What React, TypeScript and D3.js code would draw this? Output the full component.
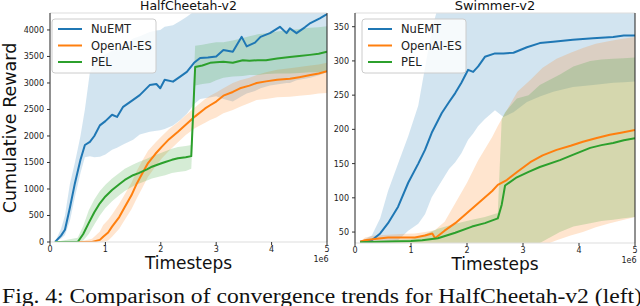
import React from "react";
import * as d3 from "d3";

// ---------- HalfCheetah-v2 (t in 1e6 timesteps) ----------
const hcNuT = [0.09,0.2,0.27,0.36,0.45,0.55,0.63,0.72,0.8,0.9,1.0,1.12,1.21,1.32,1.5,1.62,1.8,1.92,1.99,2.07,2.22,2.35,2.47,2.6,2.71,2.85,3.0,3.13,3.3,3.46,3.55,3.7,3.8,3.97,4.15,4.27,4.33,4.45,4.6,4.7,4.87,5.0];
const hcNuMean = [0,120,230,650,1110,1550,1830,1890,2000,2200,2280,2400,2360,2550,2680,2770,2960,2980,2900,3060,3025,3120,3210,3380,3470,3480,3500,3620,3590,3870,3690,3760,3870,3940,4060,3940,4030,3940,4050,4130,4220,4300];
const hcNuLow = [0,60,130,400,850,1300,1600,1620,1600,1610,1650,1740,1780,1840,1930,2030,2080,2100,2110,2130,2200,2300,2420,2600,2700,2720,2750,2700,2650,2750,2800,2850,2900,2950,2980,3000,3000,3050,3080,3100,3150,3200];
const hcNuHigh = [0,250,500,1100,1500,2000,2500,3200,3380,3480,3540,3610,3640,3700,3840,3880,3960,3990,4000,4060,4090,4170,4250,4350,4450,4500,4500,4500,4500,4500,4500,4500,4500,4500,4500,4500,4500,4500,4500,4500,4500,4500];

const hcEsT = [0.09,0.5,0.76,0.9,0.96,1.05,1.12,1.25,1.35,1.47,1.57,1.67,1.77,1.9,2.02,2.15,2.31,2.45,2.62,2.8,2.89,3.0,3.13,3.3,3.43,3.6,3.73,3.9,4.1,4.33,4.5,4.7,4.85,5.0];
const hcEsMean = [0,0,0,40,100,180,290,470,660,880,1110,1300,1490,1660,1800,1940,2080,2210,2370,2520,2580,2650,2760,2830,2900,2950,3000,3030,3060,3080,3110,3150,3180,3220];
const hcEsLow = [0,0,0,0,0,30,100,250,420,620,830,1030,1230,1420,1580,1720,1880,2020,2150,2250,2300,2350,2430,2490,2550,2620,2680,2700,2730,2740,2760,2780,2800,2810];
const hcEsHigh = [0,0,60,200,320,420,520,720,900,1120,1350,1540,1720,1870,2000,2130,2260,2390,2540,2700,2760,2820,2900,3000,3050,3100,3150,3200,3250,3280,3300,3330,3350,3380];

const hcPelT = [0.09,0.5,0.6,0.7,0.8,0.9,1.0,1.12,1.25,1.35,1.5,1.6,1.75,1.84,2.0,2.08,2.2,2.31,2.45,2.55,2.62,2.75,2.89,3.0,3.13,3.3,3.48,3.6,3.75,3.9,4.1,4.33,4.5,4.69,4.85,5.0];
const hcPelMean = [0,0,150,360,560,730,860,980,1090,1170,1260,1300,1370,1420,1480,1510,1550,1580,1600,1620,3300,3330,3380,3390,3400,3380,3430,3420,3430,3430,3460,3490,3510,3530,3550,3590];
const hcPelLow = [0,0,30,150,330,500,640,770,880,960,1050,1100,1160,1200,1240,1260,1300,1320,1340,1380,2950,2980,3000,3050,3100,3120,3130,3150,3150,3170,3180,3180,3190,3200,3200,3210];
const hcPelHigh = [0,80,300,600,800,960,1080,1200,1300,1380,1460,1510,1570,1620,1680,1710,1760,1790,1810,1830,3700,3720,3750,3770,3770,3800,3850,3880,3920,3940,3970,4000,4020,4040,4050,4070];

// ---------- Swimmer-v2 ----------
const swNuT = [0.09,0.3,0.45,0.59,0.77,0.95,1.13,1.25,1.37,1.55,1.68,1.79,1.9,2.02,2.11,2.2,2.32,2.5,2.65,2.83,3.07,3.3,3.54,3.89,4.25,4.61,4.8,5.0];
const swNuMean = [36,38,48,63,87,122,150,170,195,224,240,253,268,287,284,292,306,311,311,312,320,326,328,331,333,335,337,337];
const swNuLow = [35,34,34,34,38,52,62,76,101,125,142,152,165,185,194,205,215,228,218,225,240,248,255,262,265,268,269,270];
const swNuHigh = [36,45,70,110,150,190,235,290,345,400,420,430,440,450,450,450,450,450,450,450,450,450,450,450,450,450,450,450];

const swEsT = [0.09,0.18,0.35,0.59,0.8,1.07,1.25,1.38,1.43,1.6,1.79,2.0,2.2,2.45,2.55,2.71,2.9,3.13,3.35,3.6,3.85,4.07,4.3,4.55,4.75,5.0];
const swEsMean = [36,38,40,42,42,42,45,48,41,52,63,78,92,110,119,126,138,152,162,170,176,182,187,192,195,199];
const swEsLow = [34,34,34,34,34,34,34,34,30,30,30,30,30,30,30,30,30,30,30,38,45,50,57,63,67,72];
const swEsHigh = [36,42,45,46,47,48,50,52,53,65,92,122,155,189,205,228,255,272,290,303,312,319,325,329,332,335];

const swPelT = [0.09,0.5,1.0,1.2,1.48,1.79,2.09,2.32,2.55,2.62,2.68,2.89,3.1,3.3,3.66,3.9,4.2,4.4,4.61,4.8,5.0];
const swPelMean = [35,36,37,38,41,49,58,63,70,90,118,130,138,145,155,163,173,177,180,184,187];
const swPelLow = [34,34,34,30,30,30,30,30,30,30,30,30,30,34,50,58,63,66,68,70,72];
const swPelHigh = [35,38,40,45,55,62,68,72,78,215,225,245,250,265,280,292,300,302,303,304,305];

const seriesNames = ["NuEMT", "OpenAI-ES", "PEL"];
const seriesColors = ["#1f77b4", "#ff7f0e", "#2ca02c"];
const xTicks = [0, 1, 2, 3, 4, 5];
const hcYTicks = [0, 500, 1000, 1500, 2000, 2500, 3000, 3500, 4000];
const swYTicks = [50, 100, 150, 200, 250, 300, 350];

type Series = { t: number[]; mean: number[]; low: number[]; high: number[] };

const hcSeries: Series[] = [
  { t: hcNuT, mean: hcNuMean, low: hcNuLow, high: hcNuHigh },
  { t: hcEsT, mean: hcEsMean, low: hcEsLow, high: hcEsHigh },
  { t: hcPelT, mean: hcPelMean, low: hcPelLow, high: hcPelHigh },
];
const swSeries: Series[] = [
  { t: swNuT, mean: swNuMean, low: swNuLow, high: swNuHigh },
  { t: swEsT, mean: swEsMean, low: swEsLow, high: swEsHigh },
  { t: swPelT, mean: swPelMean, low: swPelLow, high: swPelHigh },
];

const FONT = "DejaVu Sans, sans-serif";

function Panel(props: {
  id: string; x0: number; x1: number; y0: number; y1: number;
  yDomain: [number, number]; yTicks: number[]; series: Series[]; title: string;
  titleSize: number; legendX: number;
}) {
  const { id, x0, x1, y0, y1, yDomain, yTicks, series, title, titleSize, legendX } = props;
  const xs = d3.scaleLinear().domain([0, 5]).range([x0, x1]);
  const ys = d3.scaleLinear().domain(yDomain).range([y1, y0]);
  const idx = (s: Series) => s.t.map((_, i) => i);
  const area = (s: Series) =>
    d3.area<number>().x((i) => xs(s.t[i])).y0((i) => ys(s.low[i])).y1((i) => ys(s.high[i]))(idx(s)) || "";
  const line = (s: Series) =>
    d3.line<number>().x((i) => xs(s.t[i])).y((i) => ys(s.mean[i]))(idx(s)) || "";
  const cx = (x0 + x1) / 2;
  return (
    <g>
      <defs>
        <clipPath id={id}>
          <rect x={x0} y={y0} width={x1 - x0} height={y1 - y0} />
        </clipPath>
      </defs>
      <g clipPath={`url(#${id})`}>
        {series.map((s, k) => (
          <path key={"a" + k} d={area(s)} fill={seriesColors[k]} fillOpacity={0.2} stroke="none" />
        ))}
        {series.map((s, k) => (
          <path key={"l" + k} d={line(s)} fill="none" stroke={seriesColors[k]} strokeWidth={2} strokeLinejoin="round" />
        ))}
      </g>
      <line x1={x0} x2={x1} y1={y0} y2={y0} stroke="#ddd" strokeWidth={1} />
      <line x1={x0} x2={x1} y1={y1} y2={y1} stroke="#ddd" strokeWidth={1} />
      <line x1={x0} x2={x0} y1={y0} y2={y1} stroke="#222" strokeWidth={1} />
      <line x1={x1} x2={x1} y1={y0} y2={y1} stroke="#222" strokeWidth={1} />
      {xTicks.map((t) => (
        <g key={"xt" + t}>
          <line x1={xs(t)} x2={xs(t)} y1={y1} y2={y1 + 3} stroke="#333" />
          <text x={xs(t)} y={y1 + 10} fontSize={8} fontFamily={FONT} textAnchor="middle" fill="#222">{t}</text>
        </g>
      ))}
      {yTicks.map((v) => (
        <g key={"yt" + v}>
          <line x1={x0 - 3} x2={x0} y1={ys(v)} y2={ys(v)} stroke="#333" />
          <text x={x0 - 6} y={ys(v) + 3} fontSize={8} fontFamily={FONT} textAnchor="end" fill="#222">{v}</text>
        </g>
      ))}
      <text x={x1 - 6} y={y1 + 20} fontSize={8} fontFamily={FONT} textAnchor="middle" fill="#222">1e6</text>
      <text x={cx} y={y1 + 27} fontSize={17} fontFamily={FONT} textAnchor="middle" fill="#111">Timesteps</text>
      <text x={cx} y={9.5} fontSize={titleSize} fontFamily={FONT} textAnchor="middle" fill="#111">{title}</text>
      <g>
        <rect x={legendX} y={19} width={104} height={54} rx={3} fill="#fff" fillOpacity={0.8} stroke="#ccc" />
        {seriesNames.map((n, k) => (
          <g key={"lg" + k}>
            <line x1={legendX + 6} x2={legendX + 30} y1={29 + k * 16.5} y2={29 + k * 16.5} stroke={seriesColors[k]} strokeWidth={2} />
            <text x={legendX + 39} y={29 + k * 16.5 + 4} fontSize={11.5} fontFamily={FONT} fill="#222">{n}</text>
          </g>
        ))}
      </g>
    </g>
  );
}

export default function App() {
  return (
    <svg width={640} height={306} style={{ position: "absolute", left: 0, top: 0, background: "#fff" }}>
      <rect x={0} y={0} width={640} height={306} fill="#fff" />
      <Panel id="c1" x0={50} x1={327} y0={13} y1={242} yDomain={[0, 4320]} yTicks={hcYTicks} series={hcSeries} title="HalfCheetah-v2" titleSize={12.5} legendX={52} />
      <Panel id="c2" x0={355} x1={635} y0={13} y1={243} yDomain={[34, 370]} yTicks={swYTicks} series={swSeries} title="Swimmer-v2" titleSize={13} legendX={362} />
      <text transform="translate(16,128) rotate(-90)" fontSize={17.5} fontFamily={FONT} textAnchor="middle" fill="#111">Cumulative Reward</text>
      <text x={2} y={303} fontSize={20} fontFamily="Liberation Serif, Times New Roman, serif" fill="#111" textLength={640} lengthAdjust="spacingAndGlyphs">Fig. 4: Comparison of convergence trends for HalfCheetah-v2 (left)</text>
    </svg>
  );
}
